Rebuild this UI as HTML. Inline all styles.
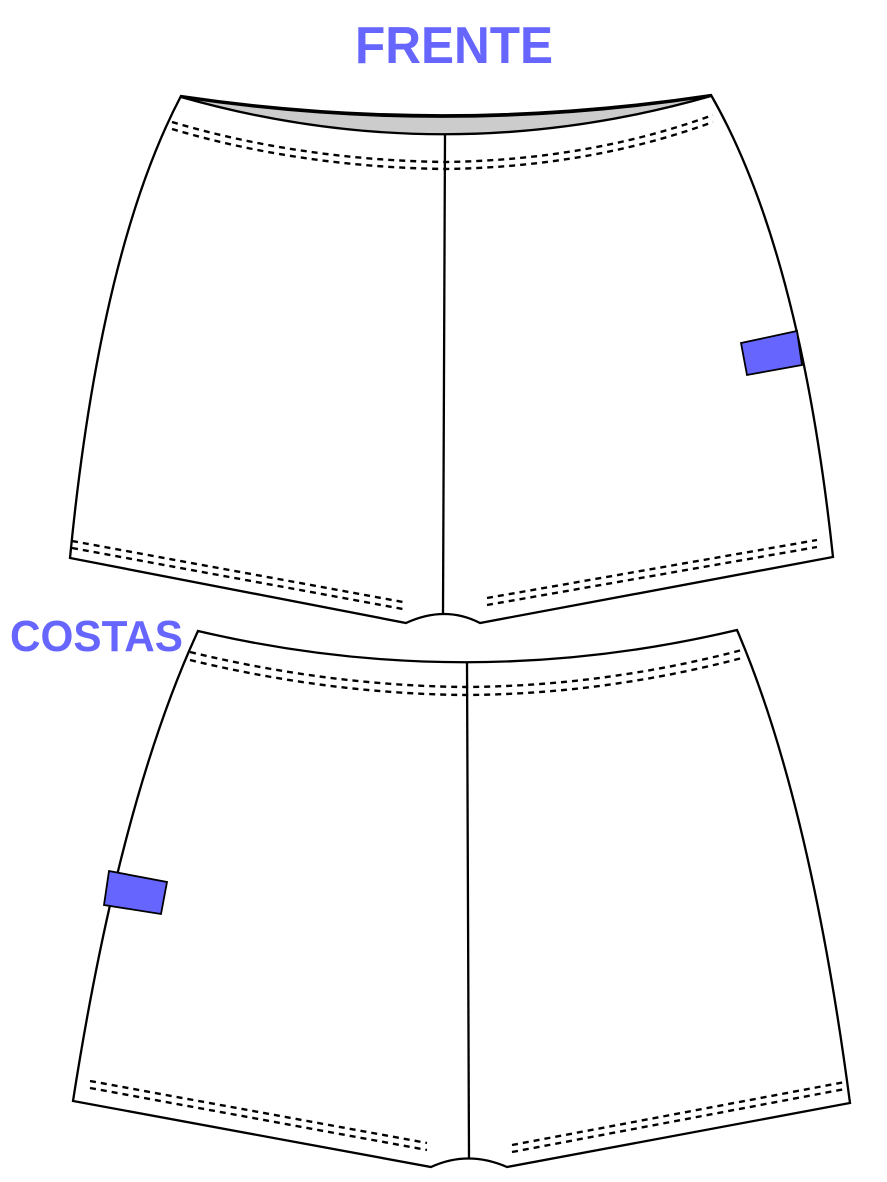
<!DOCTYPE html>
<html><head><meta charset="utf-8"><style>
html,body{margin:0;padding:0;background:#fff;}
svg{display:block}
</style></head><body>
<svg width="887" height="1182" viewBox="0 0 887 1182" xmlns="http://www.w3.org/2000/svg">
<g font-family="Liberation Sans, DejaVu Sans, sans-serif" font-weight="bold" fill="#6666ff">
<text x="355" y="63" font-size="52" textLength="198" lengthAdjust="spacingAndGlyphs">FRENTE</text>
<text x="10" y="651" font-size="44" textLength="173" lengthAdjust="spacingAndGlyphs">COSTAS</text>
</g>
<g fill="none" stroke="#000" stroke-width="2.3">
<!-- FRONT -->
<path d="M181,96 Q100,250 70,558 L406,623 Q445,605 480,623 L833,557 Q800,250 711,95 Q445,135 181,96 Z" fill="#fff"/>
<path d="M181,97 Q445,137 711,96 Q445,172 181,97 Z" fill="#cccccc"/>
<path d="M445,134 L443,614"/>
<g stroke-width="2.4" stroke-dasharray="6,5">
<path d="M172,122 Q300,160 445,162 Q590,160 713,115"/>
<path d="M172,129 Q300,167 445,169 Q590,167 713,122"/>
<path d="M72,541 L403,602"/><path d="M72,548 L403,609"/>
<path d="M487,598 L817,540"/><path d="M487,605 L817,547"/>
</g>
<path d="M741,343 L797,331 L802,365 L747,375 Z" fill="#6666ff" stroke-width="1.8"/>
<!-- BACK -->
<path d="M198,631 Q120,800 73,1101 L431,1167 Q468,1150 507,1167 L850,1103 Q810,800 737,630 Q467,694 198,631 Z" fill="#fff"/>
<path d="M467,662 L469,1159"/>
<g stroke-width="2.4" stroke-dasharray="6,5">
<path d="M190,652 Q330,686 467,687 Q605,686 742,650"/>
<path d="M190,660 Q330,694 467,695 Q605,694 742,658"/>
<path d="M90,1081 L427,1143"/><path d="M90,1088 L427,1150"/>
<path d="M512,1145 L845,1082"/><path d="M512,1152 L845,1089"/>
</g>
<path d="M109,871 L167,882 L161,914 L104,905 Z" fill="#6666ff" stroke-width="1.8"/>
</g>
</svg>
</body></html>
